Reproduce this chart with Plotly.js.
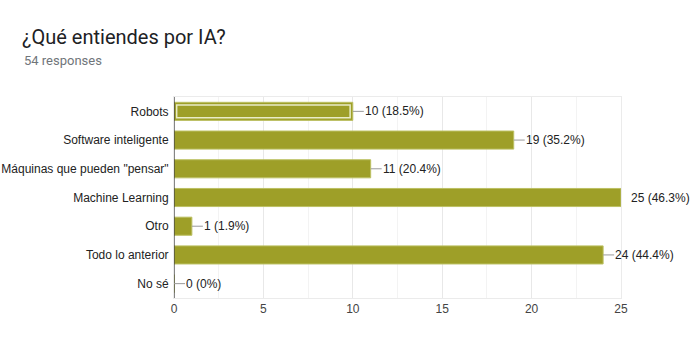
<!DOCTYPE html>
<html>
<head>
<meta charset="utf-8">
<script src="https://cdn.plot.ly/plotly-3.0.1.min.js"></script>
<style>html,body{margin:0;padding:0;background:#fff;}#chart{width:691px;height:358px;}</style>
</head>
<body>
<div id="chart"></div>
<script>
const categories = ["Robots", "Software inteligente", "Máquinas que pueden \"pensar\"", "Machine Learning", "Otro", "Todo lo anterior", "No sé"];
const counts = [10, 19, 11, 25, 1, 24, 0];
const percents = ["18.5%", "35.2%", "20.4%", "46.3%", "1.9%", "44.4%", "0%"];
const xTicks = [0, 5, 10, 15, 20, 25];
const titleText = "¿Qué entiendes por IA?";
const subtitleText = "54 responses";
const highlighted = 0;

const barColor = "#9e9f28";

const trace = {
  type: "bar",
  orientation: "h",
  x: counts,
  y: categories,
  width: 0.63,
  marker: {color: barColor, line: {color: "#bcc063", width: 1}},
  hoverinfo: "none"
};

const inset = 0.15;
const highlightTrace = {
  type: "bar",
  orientation: "h",
  x: [counts[highlighted] - 2 * inset],
  base: [inset],
  y: [categories[highlighted]],
  width: 0.45,
  marker: {color: "rgba(0,0,0,0)", line: {color: "#e9ecc6", width: 1.5}},
  hoverinfo: "none"
};

const maxVal = Math.max(...counts);
const annotations = counts.map((v, i) => ({
  x: v, y: categories[i], xref: "x", yref: "y",
  text: v + " (" + percents[i] + ")",
  showarrow: true, arrowhead: 0, arrowwidth: 1,
  arrowcolor: v === maxVal ? "rgba(0,0,0,0)" : "#9a9a9a",
  ax: v === maxVal ? 9 : 11, ay: 0, xanchor: "left", borderpad: 0,
  font: {family: "Liberation Sans, Arial, sans-serif", size: 12, color: "#222"}
}));
annotations.push({
  text: subtitleText, xref: "paper", yref: "paper",
  x: (22 - 174) / 447, y: 1 + (97 - 60) / 201, xanchor: "left", yanchor: "middle", showarrow: false,
  font: {family: "Roboto, sans-serif", size: 13, color: "#70757a"}
});

const layout = {
  width: 691, height: 358,
  margin: {l: 174, r: 70, t: 97, b: 60},
  paper_bgcolor: "#fff", plot_bgcolor: "#fff",
  title: {text: titleText, xref: "container", yref: "container", x: 22/691, y: 1 - 37/358,
          xanchor: "left", yanchor: "middle",
          font: {family: "Roboto, sans-serif", size: 20, color: "#202124"}},
  barmode: "overlay",
  showlegend: false,
  xaxis: {
    range: [0, 25], tickvals: xTicks, ticktext: xTicks.map(String),
    showgrid: true, gridcolor: "#e8e8e8", gridwidth: 1,
    minor: {dtick: 2.5, tick0: 0, showgrid: true, gridcolor: "#f3f3f3", gridwidth: 1},
    zeroline: false, showline: true, mirror: true, linecolor: "#ebebeb", linewidth: 1,
    ticks: "", fixedrange: true,
    tickfont: {family: "Liberation Sans, Arial, sans-serif", size: 12, color: "#444"}
  },
  yaxis: {
    autorange: "reversed", showgrid: false, zeroline: false,
    showline: true, mirror: true, linecolor: "#ebebeb",
    ticks: "", ticklabelstandoff: 2, fixedrange: true,
    tickfont: {family: "Liberation Sans, Arial, sans-serif", size: 12, color: "#222"}
  },
  shapes: [{type: "line", xref: "x", yref: "paper", x0: 0, x1: 0, y0: 0, y1: 1,
            line: {color: "#333", width: 1.2}}],
  annotations: annotations
};

Plotly.newPlot("chart", [trace, highlightTrace], layout, {displayModeBar: false, staticPlot: true});
</script>
</body>
</html>
